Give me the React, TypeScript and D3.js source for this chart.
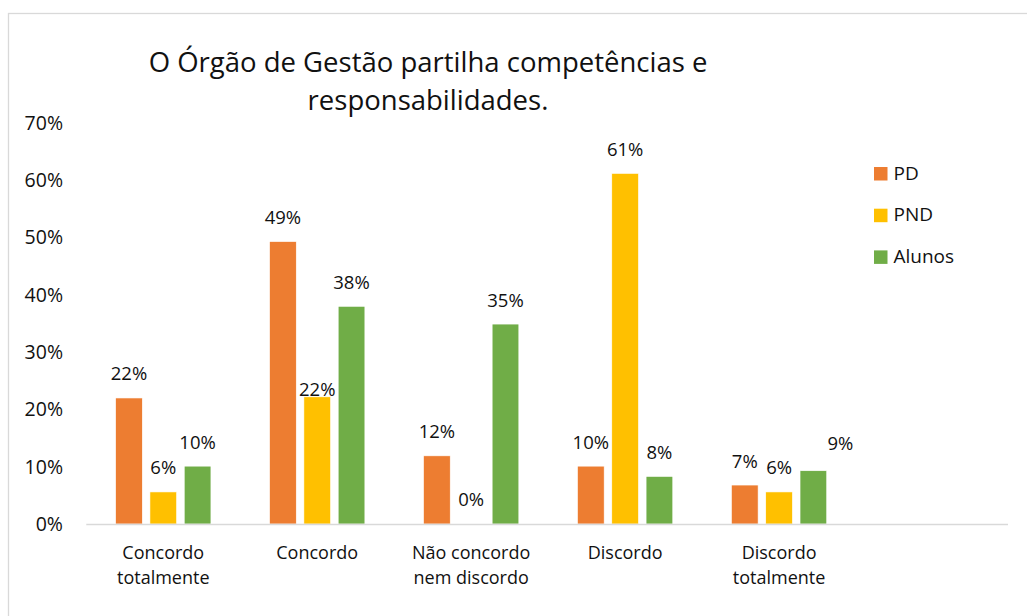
import React from "react";
import * as d3 from "d3";

const categories: string[][] = [
  ["Concordo", "totalmente"],
  ["Concordo"],
  ["Não concordo", "nem discordo"],
  ["Discordo"],
  ["Discordo", "totalmente"],
];
const seriesNames = ["PD", "PND", "Alunos"];
const pdValues = [0.22, 0.493, 0.119, 0.101, 0.068];
const pndValues = [0.056, 0.222, 0.0, 0.612, 0.056];
const alunosValues = [0.101, 0.38, 0.349, 0.083, 0.093];
const seriesColors = ["#ED7D31", "#FFC000", "#70AD47"];
const yTicks = [0, 0.1, 0.2, 0.3, 0.4, 0.5, 0.6, 0.7];
const titleLines = ["O Órgão de Gestão partilha competências e", "responsabilidades."];

// label placement tweaks (series index, category index) -> offset
const labelNudges: Record<string, [number, number]> = {
  "1-1": [0, 17],
  "2-4": [27, -3],
};

const FONT = "'Open Sans', 'DejaVu Sans', sans-serif";

export default function App() {
  const W = 1027;
  const H = 616;
  const left = 86.3;
  const right = 1010;
  const baseY = 524;
  const topY = 123;

  const values = [pdValues, pndValues, alunosValues];
  const keys = categories.map((c) => c.join(" "));
  const x0 = d3.scaleBand<string>().domain([...keys, ""]).range([left, right]).paddingInner(0).paddingOuter(0);
  const groupW = 95.3;
  const x1 = d3
    .scaleBand<string>()
    .domain(seriesNames)
    .range([(x0.bandwidth() - groupW) / 2, (x0.bandwidth() + groupW) / 2])
    .paddingInner(0.222)
    .paddingOuter(0);
  const y = d3.scaleLinear().domain([0, 0.7]).range([baseY, topY]);
  const fmt = d3.format(".0%");

  return (
    <svg
      width={W}
      height={H}
      style={{ position: "absolute", left: 0, top: 0, display: "block", background: "#fff" }}
      fontFamily={FONT}
    >
      <rect x={8.5} y={13.5} width={1100} height={700} fill="#fff" stroke="#D9D9D9" strokeWidth={1.3} />
      {/* title */}
      {titleLines.map((t, i) => (
        <text key={i} x={428} y={72 + i * 38} textAnchor="middle" fontSize={27.5} fill="#111">
          {t}
        </text>
      ))}
      {/* y ticks */}
      {yTicks.map((t) => (
        <text key={t} x={63} y={y(t)} dy="0.35em" textAnchor="end" fontSize={19.5} fill="#111">
          {fmt(t)}
        </text>
      ))}
      {/* bars */}
      {keys.map((k, ci) => (
        <g key={k} transform={`translate(${x0(k)},0)`}>
          {seriesNames.map((s, si) => {
            const v = values[si][ci];
            const bx = x1(s)!;
            const by = y(v);
            const nudge = labelNudges[`${si}-${ci}`] || [0, 0];
            return (
              <g key={s}>
                {v > 0 && (
                  <rect
                    x={bx}
                    y={by}
                    width={x1.bandwidth()}
                    height={baseY - by}
                    fill={seriesColors[si]}
                    stroke="#fff"
                    strokeWidth={0.6}
                  />
                )}
                <text
                  x={bx + x1.bandwidth() / 2 + nudge[0]}
                  y={by - 24 + nudge[1]}
                  dy="0.35em"
                  textAnchor="middle"
                  fontSize={18.5}
                  fill="#111"
                >
                  {fmt(v)}
                </text>
              </g>
            );
          })}
        </g>
      ))}
      {/* x axis line */}
      <line x1={left} x2={right - 2} y1={baseY + 0.5} y2={baseY + 0.5} stroke="#D9D9D9" strokeWidth={1.6} />
      {/* category labels */}
      {categories.map((lines, ci) => (
        <text key={ci} x={x0(keys[ci])! + x0.bandwidth() / 2} textAnchor="middle" fontSize={18} fill="#111">
          {lines.map((l, li) => (
            <tspan key={li} x={x0(keys[ci])! + x0.bandwidth() / 2} y={559 + li * 25}>
              {l}
            </tspan>
          ))}
        </text>
      ))}
      {/* legend */}
      {seriesNames.map((s, si) => (
        <g key={s} transform={`translate(874,${167 + si * 41.7})`}>
          <rect width={13.5} height={13.5} fill={seriesColors[si]} />
          <text x={19.5} y={12.5} fontSize={19} fill="#111">
            {s}
          </text>
        </g>
      ))}
    </svg>
  );
}
